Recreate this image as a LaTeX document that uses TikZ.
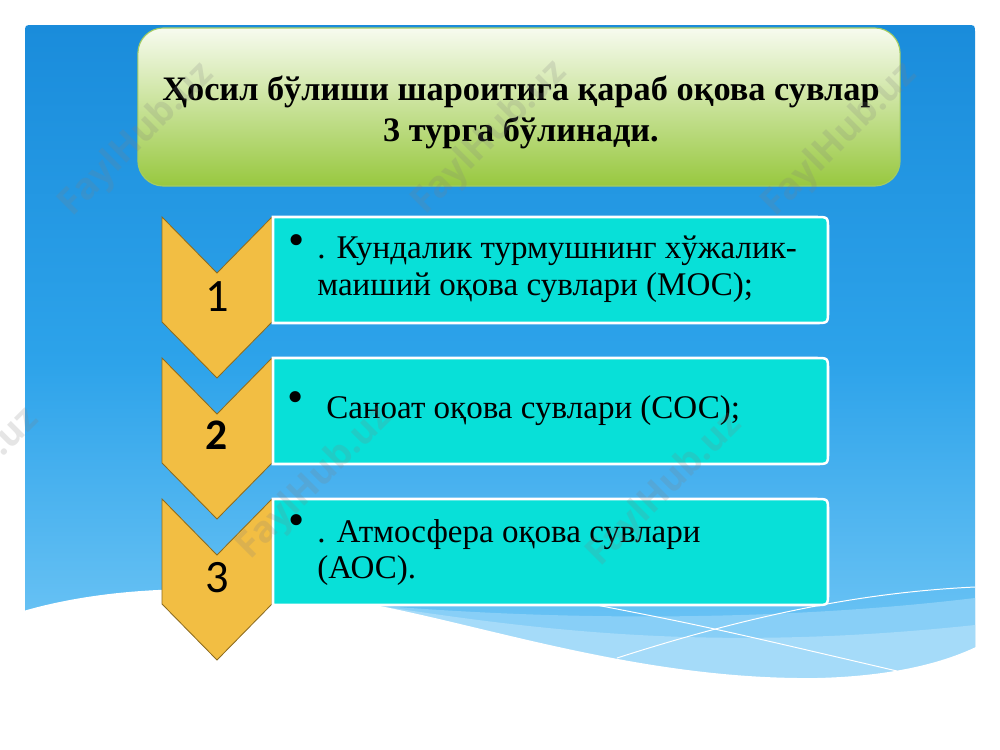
\documentclass[tikz,border=0pt]{standalone}
\usepackage{fontspec}
\setmainfont{Liberation Serif}
\newfontfamily\numfont{Carlito}
\newfontfamily\wmfont{Open Sans}
\definecolor{bluetop}{HTML}{1A8CDB}
\definecolor{bluemid}{HTML}{2DA3EA}
\definecolor{bluebot}{HTML}{7ACBF7}
\definecolor{bandone}{HTML}{88CFF7}
\definecolor{bandtwo}{HTML}{A5DBF9}
\definecolor{titletop}{HTML}{F7FBEF}
\definecolor{titlebot}{HTML}{98C83F}
\definecolor{titleline}{HTML}{A3CC62}
\definecolor{chevfill}{HTML}{F2BE43}
\definecolor{chevline}{HTML}{8C6B1F}
\definecolor{boxcyan}{HTML}{08E0D8}
\begin{document}
\begin{tikzpicture}[x=0.025cm,y=-0.025cm,
  chevron/.style={fill=chevfill, draw=chevline, line width=0.6pt},
  cyanbox/.style={fill=boxcyan, draw=white, line width=1.8pt},
  itemtext/.style={anchor=base west, inner sep=0, font=\fontsize{23.5}{26}\selectfont},
  bullettext/.style={anchor=center, inner sep=0, font=\fontsize{33}{35}\selectfont},
  titletext/.style={anchor=base, inner sep=0, font=\bfseries\fontsize{24.4}{26}\selectfont},
  numtext/.style={inner sep=0, font=\numfont\fontsize{33}{35}\selectfont},
  wmark/.style={rotate=45, text=gray, opacity=0.2, inner sep=0, font=\wmfont\bfseries\fontsize{26}{28}\selectfont},
  wline/.style={draw=white, line width=0.7pt}]

\useasboundingbox (0,0) rectangle (1000,750);
\fill[white] (0,0) rectangle (1000,750);

% blue panel
\shade[top color=bluetop, bottom color=bluebot, middle color=bluemid]
  (25,700) -- (25,33) .. controls (25,25) .. (33,25) -- (967,25)
  .. controls (975,25) .. (975,33) -- (975,700) -- cycle;

% lighter bands of the wave
\fill[bandone] (300,598) .. controls (500,620) and (750,625) .. (975,598) -- (975,700) -- (300,700) -- cycle;
\fill[bandtwo] (380,606) .. controls (550,632) and (720,652) .. (975,625) -- (975,700) -- (380,700) -- cycle;

% white wave
\fill[white] (20,612) .. controls (100,588) and (220,578) .. (380,606)
  .. controls (500,630) and (650,680) .. (817,678)
  .. controls (900,676) and (950,660) .. (980,645) -- (980,750) -- (20,750) -- cycle;

% thin white lines
\draw[wline] (560,598) .. controls (700,625) .. (897,671);
\draw[wline] (617,658) .. controls (760,612) and (870,592) .. (975,587);

% title box
\node (title) [draw=titleline, line width=0.8pt, rounded corners=18pt,
  top color=titletop, bottom color=titlebot,
  minimum width=19.05cm, minimum height=3.95cm, inner sep=0] at (519,107) {};
\node[titletext] (t1) at (521,100) {Ҳосил бўлиши шароитига қараб оқова сувлар};
\node[titletext] (t2) at (521,141) {3 турга бўлинади.};

% chevrons
\foreach \y in {217,358,499}{
  \draw[chevron] (162,\y) -- (217,\y+56) -- (272,\y) -- (272,\y+105)
    -- (217,\y+161) -- (162,\y+105) -- cycle;
}

% cyan boxes
\foreach \y in {217,358,499}{
  \draw[cyanbox] (273,\y) -- (816,\y) .. controls (828,\y) .. (828,\y+12)
    -- (828,\y+94) .. controls (828,\y+106) .. (816,\y+106) -- (273,\y+106) -- cycle;
}

% numbers
\node[numtext] (n1) at (217,297) {1};
\node[numtext, font=\numfont\bfseries\fontsize{31}{33}\selectfont] (n2) at (217,435) {2};
\node[numtext] (n3) at (217,578) {3};

% box texts
\node[bullettext] (d1) at (297,245) {•};
\node[itemtext] (b1a) at (317,258) {. Кундалик турмушнинг хўжалик-};
\node[itemtext] (b1b) at (317,295) {маиший оқова сувлари (МОС);};

\node[bullettext] (d2) at (296,402) {•};
\node[itemtext] (b2a) at (326,418) {Саноат оқова сувлари (СОС);};

\node[bullettext] (d3) at (297,525) {•};
\node[itemtext] (b3a) at (317,542) {. Атмосфера оқова сувлари};
\node[itemtext] (b3b) at (317,578) {(АОС).};

% watermarks
\node[wmark] (w1) at (137,140) {FaylHub.uz};
\node[wmark] (w2) at (490,138) {FaylHub.uz};
\node[wmark] (w3) at (840,140) {FaylHub.uz};
\node[wmark] (w4) at (-38,485) {FaylHub.uz};
\node[wmark] (w5) at (315,483) {FaylHub.uz};
\node[wmark] (w6) at (665,490) {FaylHub.uz};
\end{tikzpicture}
\end{document}
